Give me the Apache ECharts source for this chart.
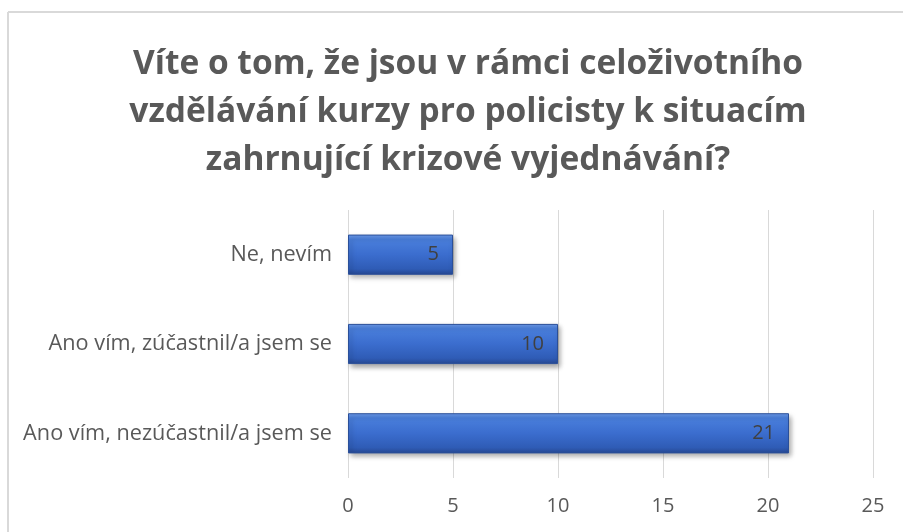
<!DOCTYPE html>
<html lang="cs">
<head>
<meta charset="UTF-8">
<script src="https://cdn.jsdelivr.net/npm/echarts@6/dist/echarts.min.js"></script>
<style>
  * { margin: 0; padding: 0; box-sizing: border-box; }
  html, body { width: 903px; height: 532px; background: #fff; overflow: hidden; }
  #chart { width: 903px; height: 532px; }
</style>
</head>
<body>
<div id="chart"></div>
<script>
  // odpovědi (zdola nahoru, jak je kreslí kategorie osy)
  const categories = ['Ano vím, nezúčastnil/a jsem se', 'Ano vím, zúčastnil/a jsem se', 'Ne, nevím'];
  const counts = [21, 10, 5];
  const xTicks = [0, 5, 10, 15, 20, 25];

  const titleText = 'Víte o tom, že jsou v rámci celoživotního\nvzdělávání kurzy pro policisty k situacím\nzahrnující krizové vyjednávání?';

  const chart = echarts.init(document.getElementById('chart'));

  const frameStyle = { stroke: '#d9d9d9', lineWidth: 2 };

  const option = {
    animation: false,
    // rámeček grafu (jen horní a levá hrana jsou v záběru)
    graphic: [
      { type: 'line', silent: true, shape: { x1: 8, y1: 12, x2: 903, y2: 12 }, style: frameStyle },
      { type: 'line', silent: true, shape: { x1: 8, y1: 12, x2: 8, y2: 532 }, style: frameStyle }
    ],
    title: {
      text: titleText,
      left: 463,
      textAlign: 'center',
      top: 35,
      textStyle: {
        fontFamily: 'Open Sans',
        fontWeight: 'bold',
        fontSize: 33.5,
        lineHeight: 48,
        color: '#595959'
      }
    },
    grid: { left: 348, right: 30, top: 210, bottom: 54 },
    xAxis: {
      type: 'value',
      min: xTicks[0],
      max: xTicks[xTicks.length - 1],
      interval: 5,
      axisLine: { show: false },
      axisTick: { show: false },
      axisLabel: { color: '#595959', fontSize: 20, fontFamily: 'Open Sans', margin: 18 },
      splitLine: { lineStyle: { color: '#d9d9d9', width: 1 } }
    },
    yAxis: {
      type: 'category',
      data: categories,
      axisLine: { show: false },
      axisTick: { show: false },
      axisLabel: { color: '#595959', fontSize: 21.7, fontFamily: 'Open Sans', margin: 16 }
    },
    series: [{
      type: 'bar',
      data: counts,
      barCategoryGap: '55%',
      itemStyle: {
        color: new echarts.graphic.LinearGradient(0, 0, 0, 1, [
          { offset: 0, color: '#6e9cea' },
          { offset: 0.12, color: '#4a7fdc' },
          { offset: 0.5, color: '#3b6dce' },
          { offset: 0.85, color: '#2f5cb6' },
          { offset: 1, color: '#264892' }
        ]),
        borderColor: '#2a4f99',
        borderWidth: 1,
        shadowColor: 'rgba(0,0,0,0.35)',
        shadowBlur: 5,
        shadowOffsetX: 2,
        shadowOffsetY: 3
      },
      label: {
        show: true,
        position: 'insideRight',
        distance: 14,
        color: '#404040',
        fontSize: 20,
        fontFamily: 'Open Sans'
      }
    }]
  };

  chart.setOption(option);
</script>
</body>
</html>
